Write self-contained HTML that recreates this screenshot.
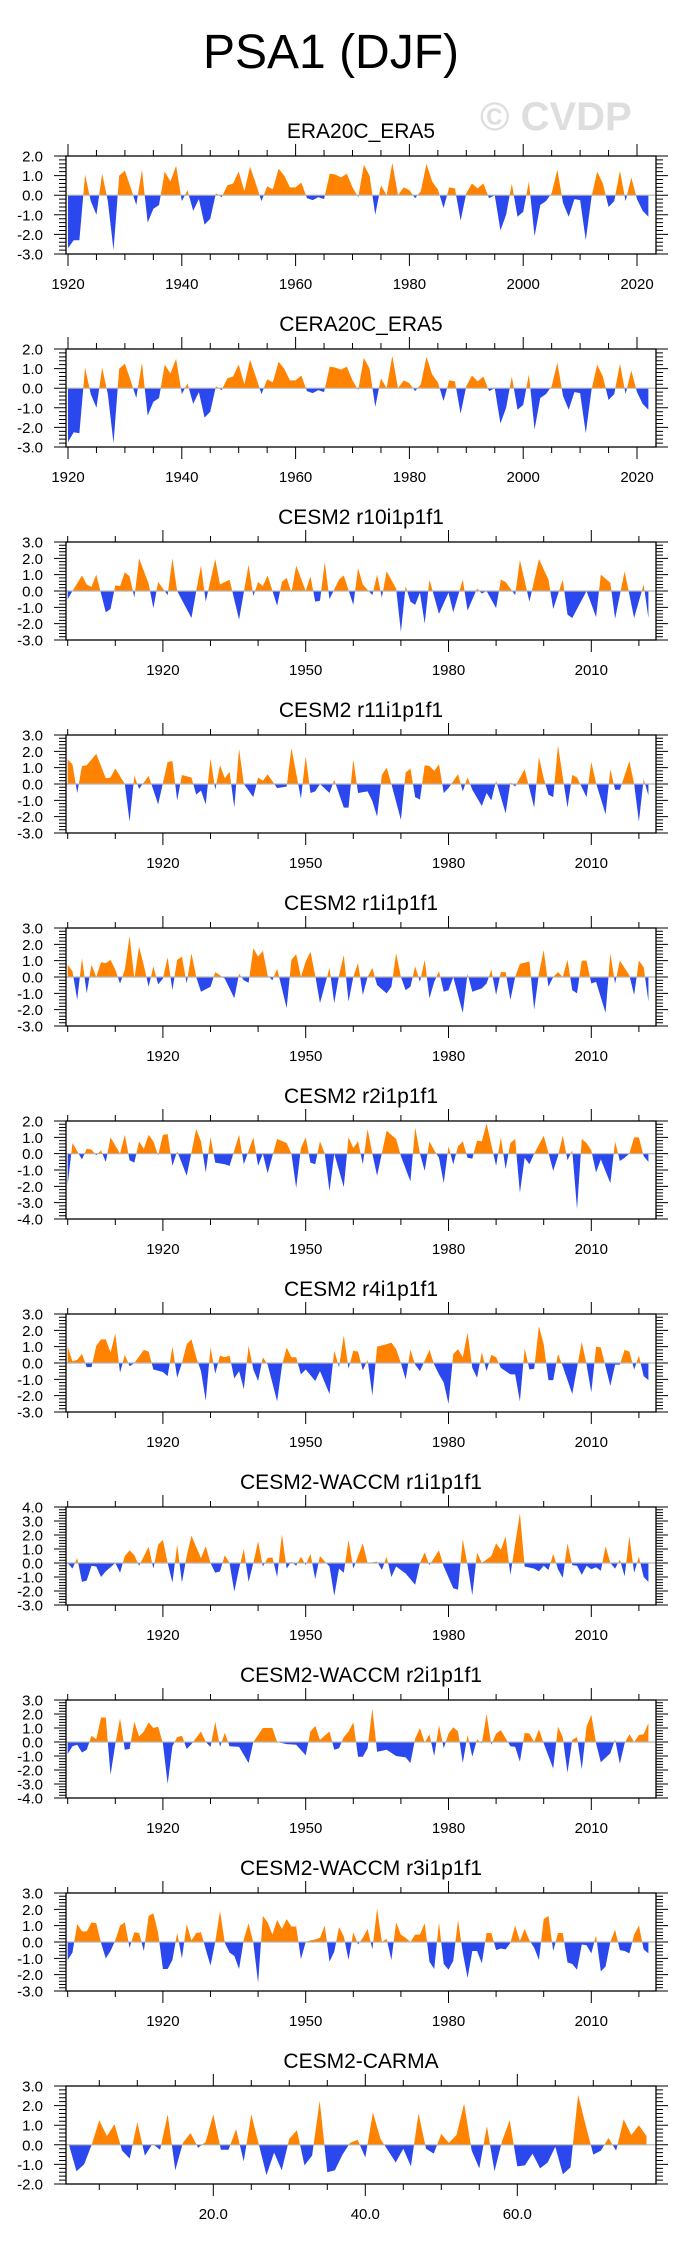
<!DOCTYPE html>
<html>
<head>
<meta charset="utf-8">
<style>
html,body{margin:0;padding:0;background:#fff;}
svg{display:block;}
text{font-family:"Liberation Sans",Arial,sans-serif;fill:#000;}
</style>
</head>
<body>
<svg id="fig" width="684" height="2251" viewBox="0 0 684 2251" xmlns="http://www.w3.org/2000/svg">
<text x="331" y="68" font-size="48" text-anchor="middle">PSA1 (DJF)</text>
<text x="480" y="130" font-size="40" font-weight="bold" style="fill:#dedede">© CVDP</text>
</svg>
<script>
// ---------- data ----------
const yearsEra = Array.from({length:103},(d,i)=>1920+i);
const valsERA20C = [-2.7,-2.3,-2.3,1.05,-0.3,-1.0,1.1,-0.3,-2.8,1.0,
1.25,0.4,-0.5,1.3,-1.4,-0.7,-0.5,1.2,0.7,1.5,
-0.3,0.25,-0.8,-0.2,-1.5,-1.2,0.1,-0.1,0.5,0.6,
1.2,0.2,1.45,0.6,-0.3,0.45,0.3,1.35,1.0,0.4,
0.4,0.65,-0.15,-0.25,-0.1,-0.2,1.1,1.05,0.9,1.1,
0.4,-0.1,1.55,1.0,-1.0,0.5,0.0,1.65,0.0,0.4,
0.25,-0.15,0.2,1.6,0.7,0.3,-0.65,0.4,0.35,-1.3,
0.1,0.6,0.35,0.6,-0.15,0.0,-1.8,-1.0,0.6,-1.1,
-0.85,0.7,-2.1,-0.5,-0.3,0.1,1.3,-0.4,-1.1,-0.2,
-0.25,-2.3,-0.1,1.2,0.6,-0.6,-0.3,1.25,-0.3,0.9,
-0.2,-0.8,-1.1];
const valsCERA20C = [-2.75,-2.25,-2.3,1.05,-0.3,-1.0,1.05,-0.3,-2.8,1.0,
1.25,0.4,-0.5,1.3,-1.4,-0.7,-0.5,1.2,0.75,1.5,
-0.3,0.25,-0.8,-0.2,-1.5,-1.2,0.1,-0.1,0.5,0.6,
1.2,0.2,1.45,0.6,-0.3,0.45,0.3,1.35,1.0,0.4,
0.4,0.65,-0.15,-0.25,-0.1,-0.2,1.1,1.05,0.95,1.1,
0.4,-0.1,1.55,1.0,-0.95,0.5,0.0,1.65,0.0,0.4,
0.25,-0.15,0.2,1.6,0.7,0.3,-0.65,0.4,0.35,-1.3,
0.1,0.65,0.35,0.6,-0.15,0.0,-1.8,-1.0,0.6,-1.1,
-0.85,0.7,-2.1,-0.5,-0.3,0.1,1.3,-0.4,-1.1,-0.2,
-0.25,-2.3,-0.1,1.2,0.6,-0.6,-0.3,1.25,-0.3,0.9,
-0.2,-0.8,-1.1];

const yearsR10 = [1900,1901,1903,1904,1905,1906,1908,1909,1910,1911,1912,1913,1914,1915,1917,1918,1919,1921,1922,1923,1926,1927,1928,1929,1931,1932,1934,1936,1938,1939,1940,1941,1942,1944,1945,1946,1947,1948,1950,1951,1952,1953,1954,1955,1957,1958,1960,1961,1962,1964,1965,1966,1967,1969,1970,1971,1972,1973,1974,1975,1976,1978,1980,1981,1983,1984,1986,1987,1988,1990,1991,1992,1994,1995,1997,1999,2001,2002,2004,2005,2006,2009,2011,2012,2014,2015,2017,2019,2021,2022];
const valsR10 = [-0.5,0,0.95,0.4,0.25,1.0,-1.3,-1.1,0.35,0.3,1.15,0.9,-0.4,2.0,0.45,-1.05,0.55,-0.25,2.0,0,-1.65,0,1.55,-0.65,1.95,0.4,0.7,-1.75,1.6,-0.3,0.55,0.3,0.95,-0.9,0.55,0.8,-0.1,1.55,0,0.9,-0.65,-0.6,1.75,-0.5,0.7,0.95,-0.85,1.4,0.4,-0.25,1.0,-0.4,1.2,0.15,-2.5,0.3,-0.65,-0.85,-0.1,-2.0,0.7,-1.4,-0.1,-1.3,0.7,-1.2,0.15,-0.15,0,-1.05,0.7,0.55,-0.25,1.9,-0.65,1.95,0.7,-1.1,0.7,-1.45,-1.65,0,-1.6,1.0,0.5,-1.7,1.2,-1.65,0.4,-1.65];

const yearsR11 = [1900,1901,1902,1903,1904,1906,1908,1909,1910,1912,1913,1914,1915,1917,1919,1921,1922,1923,1924,1926,1927,1928,1929,1930,1931,1932,1933,1934,1935,1936,1937,1939,1940,1941,1942,1944,1946,1947,1949,1950,1951,1952,1953,1955,1956,1958,1959,1960,1961,1963,1964,1965,1966,1967,1968,1970,1971,1972,1973,1974,1975,1976,1977,1978,1979,1980,1982,1983,1984,1985,1987,1988,1989,1990,1992,1993,1994,1996,1998,1999,2000,2001,2002,2003,2005,2006,2007,2009,2010,2011,2013,2014,2015,2016,2018,2019,2020,2021,2022];
const valsR11 = [1.5,1.2,-0.55,1.1,1.15,1.85,0.35,0.4,0.95,0,-2.3,0.5,-0.3,0.5,-1.25,1.35,1.4,-1.0,0.55,0.4,-0.65,-0.4,-1.25,1.55,-0.35,1.15,0.35,0.75,-1.45,2.15,0,-0.8,0.4,0.2,0.6,-0.25,-0.15,2.2,-0.9,1.7,-0.55,-0.45,0,-0.55,0.25,-1.45,-1.45,1.5,-0.55,-0.45,-1.05,-2.0,0.55,1.0,0,-2.2,0.7,0.95,-0.8,-0.95,1.15,1.1,0.8,1.2,-0.55,-0.25,0.6,-0.45,0.4,-0.35,-1.35,-0.55,-1.0,0.2,-1.8,0.1,-0.15,0.9,-1.45,1.65,0.35,-0.65,-0.8,2.35,-1.45,0.55,0.4,-0.8,1.35,0.05,-1.85,0.9,-0.35,-0.35,1.4,0,-2.3,0.3,-0.7];

const yearsR1 = [1900,1901,1902,1903,1904,1905,1906,1907,1908,1909,1910,1911,1912,1913,1914,1915,1916,1917,1918,1919,1920,1921,1922,1923,1924,1925,1926,1927,1928,1930,1931,1933,1935,1936,1937,1938,1939,1940,1941,1942,1943,1944,1946,1947,1948,1949,1950,1951,1952,1953,1955,1956,1957,1958,1959,1960,1961,1962,1963,1964,1965,1967,1968,1969,1970,1971,1972,1973,1974,1975,1976,1977,1978,1979,1980,1981,1983,1984,1985,1987,1988,1989,1990,1991,1992,1993,1994,1995,1997,1998,1999,2000,2001,2002,2003,2004,2005,2006,2007,2008,2009,2010,2011,2013,2014,2015,2016,2018,2019,2020,2021,2022];
const valsR1 = [0.75,0.35,-1.4,1.15,-1.0,0.75,0,0.9,0.85,1.05,0.45,-0.4,0.45,2.5,-0.1,1.85,0.7,-0.6,0.65,-0.45,-0.1,1.2,-0.8,1.05,1.25,-0.4,1.45,0,-0.9,-0.6,0.3,-0.1,-1.3,0.2,-0.2,-0.35,1.75,1.25,1.6,0.1,-0.2,0.5,-1.9,1.05,1.4,0,0.95,1.55,0.1,-1.6,0.55,-1.6,0.1,1.35,-1.5,0,0.85,-1.1,0,0.55,-0.5,-1.0,-0.6,1.45,0,-0.8,-0.6,0.65,-0.3,1.05,-1.3,-0.3,0.35,-0.9,-0.8,0,-2.2,0.2,-0.9,-0.7,-0.4,0.45,-1.1,0.3,0.3,-1.4,0,0.8,0.95,-2.0,0.2,1.65,-0.6,0,0.3,0,1.05,-0.8,-1.0,1.0,1.0,-0.4,-0.3,-2.2,1.45,-0.4,1.0,0.1,-1.1,1.0,0.6,-1.5];

const yearsR2 = [1900,1901,1903,1904,1905,1906,1907,1908,1909,1911,1912,1913,1914,1915,1916,1917,1918,1919,1920,1921,1922,1923,1925,1927,1928,1929,1930,1931,1933,1934,1936,1937,1939,1940,1941,1942,1944,1946,1947,1948,1949,1950,1951,1952,1953,1954,1955,1956,1958,1959,1960,1961,1962,1963,1964,1965,1967,1969,1970,1972,1973,1974,1975,1976,1977,1978,1979,1980,1981,1982,1983,1984,1985,1986,1987,1988,1989,1990,1991,1992,1993,1994,1995,1996,1997,1998,1999,2000,2001,2002,2003,2004,2005,2006,2007,2008,2009,2010,2011,2012,2014,2015,2016,2017,2018,2019,2020,2021,2022];
const valsR2 = [-1.9,0.65,-0.35,0.3,0.25,-0.1,0.2,-0.5,1.0,0,1.15,-0.4,-0.55,0.75,0.3,1.15,0.75,-0.1,1.15,1.2,-0.75,0.15,-1.35,1.5,0.75,-1.15,1.0,-0.55,-0.65,-0.75,1.15,-0.65,1.0,-0.75,0,-1.2,0.9,0.65,0,-2.1,0.35,1.0,-0.55,-0.65,0.75,0,-2.3,0,-2.05,1.0,0.35,0.75,-0.65,1.5,0,-1.35,1.4,0.9,-0.15,-1.7,1.6,0,-1.05,0.75,0.2,-0.25,-1.8,0.45,-0.65,0.45,0.75,-0.25,-0.3,0.8,0.75,1.85,0.55,-0.75,1.0,-0.95,0.65,0.9,-2.4,-0.25,-0.65,0,0.55,1.1,0.05,-1.05,-0.15,1.1,-0.4,0.2,-3.4,0.9,0.65,0.2,-1.15,-0.35,-1.8,0.75,-0.45,-0.25,0,1.0,1.0,-0.15,-0.5];

const yearsR4 = [1900,1901,1902,1903,1904,1905,1906,1907,1908,1909,1910,1911,1912,1913,1914,1916,1917,1918,1920,1921,1922,1923,1924,1925,1926,1927,1928,1929,1930,1931,1932,1933,1934,1935,1936,1937,1938,1939,1940,1941,1942,1944,1945,1946,1947,1948,1949,1950,1952,1953,1955,1956,1957,1958,1959,1960,1961,1962,1963,1964,1965,1967,1968,1969,1970,1971,1972,1973,1974,1976,1977,1978,1979,1980,1981,1982,1983,1984,1985,1986,1987,1988,1989,1990,1991,1993,1994,1995,1996,1997,1998,1999,2000,2001,2002,2003,2004,2006,2008,2009,2010,2011,2012,2014,2015,2016,2017,2018,2019,2020,2021,2022];
const valsR4 = [1.0,0.1,0.2,0.55,-0.25,-0.25,1.05,1.45,1.45,0.65,1.8,-0.6,0.5,-0.2,0,0.8,0.7,-0.4,-0.55,-0.8,1.0,-0.9,0,1.15,1.45,0.35,-0.5,-2.3,0.95,-0.65,0.45,0.35,0.45,-0.95,-0.5,-1.6,1.05,-0.4,-1.1,0.35,-0.1,-2.35,-0.2,0.95,0.35,0.35,-0.7,-0.4,-1.1,-0.5,-1.9,0.75,-0.25,1.7,-0.35,0.75,0.7,-0.45,0.2,-2.0,1.0,1.15,1.25,0.85,0,-1.0,0.8,-0.1,-0.5,0.8,-0.1,-0.7,-1.2,-2.5,0.55,0.85,0.35,1.85,-0.3,-0.9,0.65,-0.5,0.5,0.35,-0.3,-0.7,-0.7,-2.35,0.9,-0.4,-0.35,2.25,1.15,-1.05,-1.05,0.55,-0.2,-1.9,1.3,-0.1,-1.8,1.0,0.95,-1.4,-0.1,-0.1,0.8,0.7,-0.4,0.45,-0.8,-1.05];

const yearsW1 = [1900,1901,1902,1903,1904,1905,1906,1907,1908,1910,1911,1912,1913,1914,1915,1917,1918,1919,1920,1921,1922,1923,1924,1925,1926,1928,1929,1930,1931,1932,1933,1934,1935,1936,1937,1938,1939,1940,1941,1942,1943,1944,1945,1946,1947,1948,1949,1950,1951,1952,1953,1954,1955,1956,1957,1958,1959,1960,1962,1963,1965,1966,1967,1968,1969,1971,1973,1974,1975,1976,1978,1979,1981,1982,1983,1984,1985,1986,1987,1989,1990,1991,1992,1993,1995,1996,1998,1999,2000,2001,2002,2003,2004,2005,2006,2007,2008,2009,2010,2011,2012,2013,2014,2015,2016,2017,2018,2019,2020,2021,2022];
const valsW1 = [0,-0.4,0.35,-1.35,-1.25,-0.2,-0.25,-1.0,-0.6,0,-0.7,0.5,0.9,0.55,-0.2,1.15,-0.4,1.3,1.65,0,-1.4,1.3,-1.4,0.5,1.95,0.35,1.2,0,-0.7,-0.6,0.55,0,-2.05,-0.4,1.0,-1.35,0,1.55,-0.25,0.35,0.4,-1.0,2.05,-0.4,0.1,-0.2,0.45,-0.15,0.65,-1.15,0.5,0.1,-0.25,-2.35,-0.4,-0.7,1.65,-0.4,1.4,0,0.1,-0.5,0.45,-1.0,-0.25,-0.75,-1.55,0,0.75,-0.15,0.9,-0.25,-1.8,-1.9,1.7,-0.15,-2.3,0.75,0,0.5,1.4,0.95,1.9,-0.85,3.55,-0.25,-0.4,-0.6,-0.2,-0.5,0.65,-0.45,-1.05,1.4,-0.15,-0.2,-0.85,-0.2,-0.45,-0.3,-0.55,1.2,0,-0.4,0.25,-0.95,1.9,-0.7,0.45,-1.0,-1.35];

const yearsW2 = [1900,1901,1902,1903,1904,1905,1906,1907,1908,1909,1910,1911,1912,1913,1914,1915,1916,1917,1918,1919,1920,1921,1922,1923,1924,1925,1926,1928,1929,1930,1931,1932,1933,1934,1936,1938,1939,1941,1943,1944,1946,1948,1950,1951,1952,1953,1955,1956,1957,1958,1959,1960,1961,1962,1963,1964,1965,1967,1969,1971,1972,1973,1974,1975,1976,1977,1978,1979,1980,1981,1982,1983,1984,1985,1986,1987,1988,1989,1990,1991,1993,1994,1995,1996,1997,1998,1999,2000,2002,2003,2004,2005,2006,2007,2008,2009,2010,2011,2012,2014,2015,2016,2017,2018,2019,2020,2021,2022];
const valsW2 = [-0.85,-0.3,-0.2,-0.75,-0.55,0.45,0.2,1.75,1.75,-2.35,-0.15,1.7,-0.55,-0.5,1.45,0.4,0.75,1.4,1.0,1.1,-0.1,-3.0,-0.3,0.35,0.45,-0.5,-0.15,0.75,0,-0.35,1.45,-0.35,0.65,-0.3,-0.35,-1.5,0,1.0,1.0,0,-0.15,-0.2,-0.95,0.75,1.15,0.15,0.75,-0.55,-0.45,0.35,0.75,1.4,-1.05,-1.05,-0.45,2.4,-0.7,-0.55,-1.0,-1.1,-1.5,0.25,1.0,-0.05,0.55,-1.0,1.2,-0.45,0.6,1.05,0.75,-1.5,0.5,-1.05,0.2,-0.1,2.0,-0.2,0.6,0.85,-0.3,-0.35,-1.4,0.65,0.6,0,0.9,-0.1,-1.9,1.1,0.35,-2.2,0.15,0.35,-1.95,1.1,1.95,-0.1,-1.45,-0.8,0.2,-1.55,-0.1,0.55,0,0.5,0.55,1.35];

const yearsW3 = Array.from({length:123},(d,i)=>1900+i);
const valsW3 = [-1.1,-0.65,1.1,0.65,0.65,1.2,1.15,-0.05,-1.0,-0.55,
0.1,1.0,1.2,-0.35,0.6,0.55,-0.55,1.6,1.75,0.55,
-1.65,-1.65,-1.1,0.55,-1.0,1.1,0.1,0.55,0.6,-0.45,
-1.45,0,1.9,-0.05,-0.65,-0.85,-1.65,0.15,1.15,-0.05,
-2.5,1.6,1.2,0.45,1.35,0.8,1.4,0.95,0.95,-1.05,
0,0.1,0.15,0.25,1.0,-1.2,-0.6,0.9,0.35,-1.1,
0.6,-0.15,0.25,0.8,-0.45,2.05,0,0.2,-1.1,1.2,
0.45,0.25,0,0.45,0.45,1.15,-1.2,-1.65,1.2,-1.35,
-1.7,-1.15,1.35,-0.65,-2.2,-0.55,-0.55,-1.3,0.55,0.55,
-0.5,-0.4,-0.45,-0.05,1.0,0.05,0.8,0.1,-0.35,-1.1,
1.4,1.6,-0.55,0.55,0.55,-1.25,-1.35,-1.7,-0.15,-0.2,
-0.7,0.4,-1.8,-1.5,0,0.75,-0.5,-0.55,-0.7,0.45,
1.0,-0.45,-0.7];

const stepsCarma = Array.from({length:77},(d,i)=>i+1);
const valsCarma = [0,-1.35,-1.0,0,1.25,0.45,1.05,-0.3,-0.7,1.15,
-0.55,0.05,-0.25,1.55,-1.3,0.1,0.6,-0.15,0.15,1.55,
-0.25,-0.25,0.8,-0.85,1.55,0,-1.55,-0.4,-1.3,0.3,
0.75,-1.05,-0.55,2.25,-1.4,-1.3,-0.5,0.1,0.25,-0.65,
1.65,0.3,-0.3,-0.9,-0.2,-1.1,1.6,-0.2,-0.45,0.55,
0.1,0.5,2.1,-0.3,-1.2,0.95,-1.35,0.2,1.25,-1.1,
-1.05,-0.45,-1.2,-0.9,-0.1,-1.5,-1.15,2.55,1.0,-0.5,
-0.3,0.35,-0.3,1.3,0.5,1.0,0.45];

const panelTitles = ["ERA20C_ERA5","CERA20C_ERA5","CESM2 r10i1p1f1","CESM2 r11i1p1f1","CESM2 r1i1p1f1","CESM2 r2i1p1f1","CESM2 r4i1p1f1","CESM2-WACCM r1i1p1f1","CESM2-WACCM r2i1p1f1","CESM2-WACCM r3i1p1f1","CESM2-CARMA"];
const yMins = [-3,-3,-3,-3,-3,-4,-3,-3,-4,-3,-2];
const yMaxs = [2,2,3,3,3,2,3,4,3,3,3];

// ---------- layout ----------
const NS = "http://www.w3.org/2000/svg";
const svg = document.getElementById("fig");
const L = 66, R = 656, H = 98;
const ORANGE = "#ff8200", BLUE = "#2a48ee";

function mk(tag, attrs){
  const e = document.createElementNS(NS, tag);
  for (const k in attrs) e.setAttribute(k, attrs[k]);
  return e;
}
const axes = {
  era: {x: t => 68 + (t - 1920) * 5.69, minors: [], majors: [1920,1940,1960,1980,2000,2020], fmt: t => String(t)},
  mod: {x: t => 67.7 + (t - 1900) * 4.76, minors: [], majors: [1920,1950,1980,2010], fmt: t => String(t)},
  carma: {x: t => 61.3 + t * 7.6, minors: [], majors: [20,40,60], fmt: t => t.toFixed(1)}
};
for (let t = 1920; t <= 2020; t += 5) axes.era.minors.push(t);
for (let t = 1900; t <= 2020; t += 10) axes.mod.minors.push(t);
for (let t = 5; t <= 75; t += 5) axes.carma.minors.push(t);

const series = [
  ["era", yearsEra, valsERA20C],
  ["era", yearsEra, valsCERA20C],
  ["mod", yearsR10, valsR10],
  ["mod", yearsR11, valsR11],
  ["mod", yearsR1, valsR1],
  ["mod", yearsR2, valsR2],
  ["mod", yearsR4, valsR4],
  ["mod", yearsW1, valsW1],
  ["mod", yearsW2, valsW2],
  ["mod", yearsW3, valsW3],
  ["carma", stepsCarma, valsCarma]
];

const defs = mk("defs", {});
svg.appendChild(defs);

series.forEach((s, i) => {
  const ax = axes[s[0]], xs = s[1], vs = s[2];
  const top = 156 + 193 * i, bot = top + H;
  const ymin = yMins[i], ymax = yMaxs[i];
  const y = v => top + (ymax - v) / (ymax - ymin) * H;
  const y0 = y(0);

  const g = mk("g", {});
  
  
  svg.appendChild(g);

  const title = mk("text", {x: 361, y: top - 18, "font-size": 21, "text-anchor": "middle"});
  
  
  title.textContent = panelTitles[i];
  g.appendChild(title);

  const cpA = mk("clipPath", {id: "ca" + i});
  cpA.appendChild(mk("rect", {x: L, y: top, width: R - L, height: y0 - top}));
  const cpB = mk("clipPath", {id: "cb" + i});
  cpB.appendChild(mk("rect", {x: L, y: y0, width: R - L, height: bot - y0}));
  defs.appendChild(cpA); defs.appendChild(cpB);

  const n = Math.min(xs.length, vs.length);
  let d = "M" + ax.x(xs[0]).toFixed(2) + "," + y0.toFixed(2);
  for (let k = 0; k < n; k++) d += "L" + ax.x(xs[k]).toFixed(2) + "," + y(vs[k]).toFixed(2);
  d += "L" + ax.x(xs[n - 1]).toFixed(2) + "," + y0.toFixed(2) + "Z";

  const pos = mk("path", {d: d, fill: ORANGE, "clip-path": "url(#ca" + i + ")"});
  
  
  g.appendChild(pos);
  const neg = mk("path", {d: d, fill: BLUE, "clip-path": "url(#cb" + i + ")"});
  
  
  g.appendChild(neg);

  const zl = mk("line", {x1: L, x2: R, y1: y0, y2: y0, stroke: "#b4b4b4", "stroke-width": 1.2});
  
  
  g.appendChild(zl);

  let td = "";
  ax.minors.forEach(t => {
    const xx = ax.x(t).toFixed(2);
    const len = ax.majors.includes(t) ? 12 : 6;
    td += "M" + xx + "," + top + "v" + (-len) + "M" + xx + "," + bot + "v" + len;
  });
  ax.majors.forEach(t => {
    if (!ax.minors.includes(t)) {
      const xx = ax.x(t).toFixed(2);
      td += "M" + xx + "," + top + "v-12M" + xx + "," + bot + "v12";
    }
  });
  const nMinor = Math.round((ymax - ymin) / 0.2);
  for (let k = 0; k <= nMinor; k++) {
    const v = ymin + k * 0.2;
    const yy = y(v).toFixed(2);
    const major = (k % 5 === 0);
    const len = major ? 12 : 7;
    td += "M" + L + "," + yy + "h" + (-len) + "M" + R + "," + yy + "h" + len;
  }
  const ticks = mk("path", {d: td, stroke: "#000", "stroke-width": 1, fill: "none"});
  
  
  g.appendChild(ticks);

  const box = mk("rect", {x: L, y: top, width: R - L, height: H, fill: "none", stroke: "#000", "stroke-width": 1.3});
  
  
  g.appendChild(box);

  for (let v = ymin; v <= ymax; v++) {
    const tl = mk("text", {x: 43, y: y(v) + 5.5, "font-size": 15, "text-anchor": "end"});
    
    
    tl.textContent = v.toFixed(1);
    g.appendChild(tl);
  }
  ax.majors.forEach(t => {
    const tl = mk("text", {x: ax.x(t), y: bot + 35, "font-size": 15, "text-anchor": "middle"});
    
    
    tl.textContent = ax.fmt(t);
    g.appendChild(tl);
  });
});
</script>
</body>
</html>
